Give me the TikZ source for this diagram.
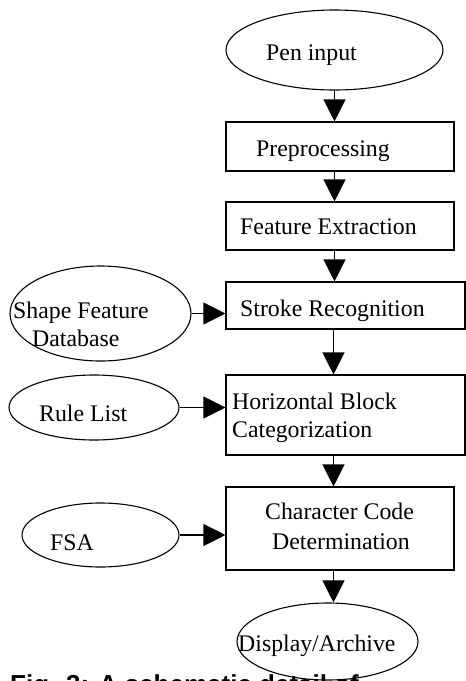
\documentclass[tikz,border=0pt]{standalone}
\usepackage{fontspec}
\setmainfont{Liberation Serif}
\newfontfamily\capfont{Liberation Sans}
\usetikzlibrary{shapes.geometric,arrows.meta}
\tikzset{
  lw/.style={line width=1.1pt},
  blk/.style={draw, lw, rectangle, inner sep=0pt},
  ell/.style={draw, lw, ellipse, inner sep=0pt},
  txt/.style={anchor=base west, inner sep=0pt, font=\fontsize{23.8}{28}\selectfont},
  arr/.style={lw, -{Triangle[length=22pt,width=22pt]}}
}
\begin{document}
\begin{tikzpicture}[x=1pt,y=-1pt]
\useasboundingbox[fill=white] (0,0) rectangle (466,681);
% ellipses
\node[ell, minimum width=217pt, minimum height=80pt] (pen) at (334.5,50) {};
\node[ell, minimum width=181pt, minimum height=95pt] (sfd) at (100.5,313.5) {};
\node[ell, minimum width=170pt, minimum height=65pt] (rule) at (94,407.5) {};
\node[ell, minimum width=157pt, minimum height=64pt] (fsa) at (100.5,535) {};
\node[ell, minimum width=181pt, minimum height=77pt] (disp) at (327.5,641.5) {};
% boxes
\node[blk, minimum width=228pt, minimum height=49pt] (pre) at (340,146.5) {};
\node[blk, minimum width=228pt, minimum height=48pt] (fe) at (340,226) {};
\node[blk, minimum width=239pt, minimum height=47pt] (stroke) at (345.5,305.5) {};
\node[blk, minimum width=239pt, minimum height=80pt] (hbc) at (345.5,415) {};
\node[blk, minimum width=228pt, minimum height=83pt] (ccd) at (340,528.5) {};
% texts
\node[txt] (penT) at (266,60) {Pen input};
\node[txt] (preT) at (256,156) {Preprocessing};
\node[txt] (feT) at (240,234) {Feature Extraction};
\node[txt] (strokeT) at (240,316) {Stroke Recognition};
\node[txt] (sfdT1) at (13,318) {Shape Feature};
\node[txt] (sfdT2) at (32,346) {Database};
\node[txt] (hbcT1) at (232,409) {Horizontal Block};
\node[txt] (hbcT2) at (232,437) {Categorization};
\node[txt] (ruleT) at (39,421) {Rule List};
\node[txt] (ccdT1) at (265,519) {Character Code};
\node[txt] (ccdT2) at (272,549) {Determination};
\node[txt] (fsaT) at (50,550) {FSA};
\node[txt] (dispT) at (238,651) {Display/Archive};
\node[anchor=base west, inner sep=0pt, font=\capfont\bfseries\fontsize{26}{30}\selectfont] (cap) at (10,693.6) {Fig. 3: A schematic detail of};
% connectors
\draw[arr] (pen.south) -- (pen.south |- pre.north);
\draw[arr] (pen.south |- pre.south) -- (pen.south |- fe.north);
\draw[arr] (pen.south |- fe.south) -- (pen.south |- stroke.north);
\draw[arr] ([xshift=-1pt]pen.south |- stroke.south) -- ([xshift=-1pt]pen.south |- hbc.north);
\draw[arr] ([xshift=-1pt]pen.south |- hbc.south) -- ([xshift=-1pt]pen.south |- ccd.north);
\draw[arr] ([xshift=-1pt]pen.south |- ccd.south) -- ([xshift=-1pt]pen.south |- disp.north);
\draw[arr] (sfd.east) -- (stroke.west |- sfd.east);
\draw[arr] (rule.east) -- (hbc.west |- rule.east);
\draw[arr] (fsa.east) -- (ccd.west |- fsa.east);
\end{tikzpicture}
\end{document}
